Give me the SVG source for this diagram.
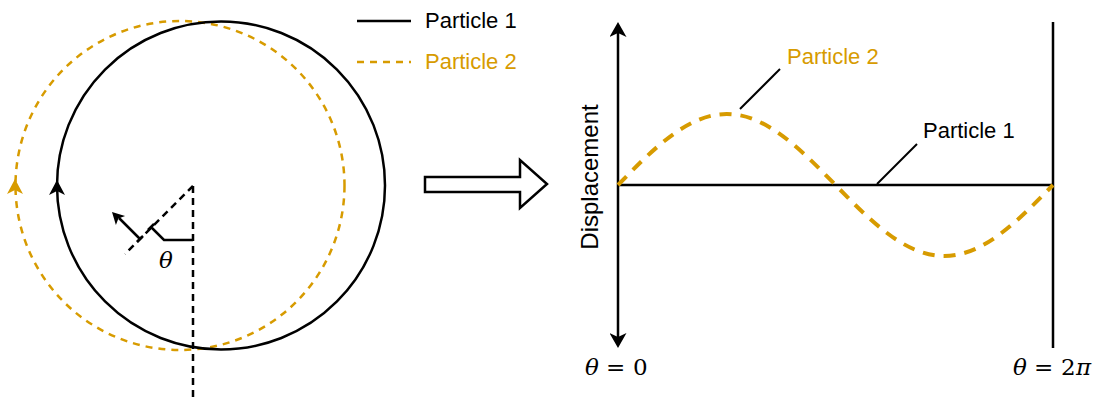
<svg xmlns="http://www.w3.org/2000/svg" width="1096" height="401" viewBox="0 0 1096 401">
<style>
.blk{fill:none;stroke:#000;stroke-width:2.5}
.org{fill:none;stroke:#d79b00;stroke-width:2.5;stroke-dasharray:7 6}
.dsh{fill:none;stroke:#000;stroke-width:2.5;stroke-dasharray:7 5}
.lbl{font-family:"Liberation Sans",Arial,sans-serif;font-size:22px}
.math{font-family:"DejaVu Serif","Liberation Serif",serif;font-size:23px;fill:#000}
.it{font-style:italic}
</style>
<defs>
<marker id="axarrow" viewBox="0 0 15 17" refX="4" refY="8.5" markerWidth="15" markerHeight="17" markerUnits="userSpaceOnUse" orient="auto-start-reverse">
<path d="M15,8.5 L0,0 L4,8.5 L0,17 Z" fill="#000"/>
</marker>
<path id="ah" d="M0,0 L8,15 L0,11 L-8,15 Z"/>
</defs>

<g id="circle-diagram">
<g id="particle2-orbit">
<circle cx="180" cy="185.5" r="164.5" class="org"/>
<use href="#ah" x="15" y="179" fill="#d79b00"/>
</g>
<g id="particle1-orbit">
<circle cx="221" cy="185.5" r="164" class="blk"/>
<use href="#ah" x="57" y="180" fill="#000"/>
</g>
<g id="angle-construction">
<line x1="193" y1="186" x2="193" y2="401" class="dsh"/>
<line x1="193" y1="186" x2="125" y2="254" class="dsh"/>
<path d="M148,230 L154,224 M151,227 L164,240 L193,240" class="blk" stroke-width="2"/>
<path d="M137,242 L143,236 M140,239 L119,218" class="blk" stroke-width="2.5"/>
<polygon points="112,212 125.1,215.9 118.4,218.4 115.9,225.1" fill="#000"/>
<text x="159" y="268" class="math it">θ</text>
</g>
</g>

<g id="legend">
<line x1="357" y1="21" x2="411" y2="21" class="blk"/>
<text x="425" y="28" class="lbl" fill="#000">Particle 1</text>
<line x1="357" y1="62" x2="411" y2="62" class="org"/>
<text x="425" y="69" class="lbl" fill="#d79b00">Particle 2</text>
</g>

<g id="transform-arrow">
<polygon points="425,177 520,177 520,160 547,184 520,208 520,192 425,192" fill="#fff" stroke="#000" stroke-width="2.5" stroke-linejoin="miter"/>
</g>

<g id="graph">
<g id="connectors">
<line x1="618" y1="33" x2="618" y2="337" class="blk" marker-start="url(#axarrow)" marker-end="url(#axarrow)"/>
<line x1="1053" y1="22" x2="1053" y2="348" class="blk"/>
<line x1="618" y1="185" x2="1053" y2="185" class="blk"/>
<path d="M618,185 C653.47,148.63 687.70,114 726.75,114 C765.80,114 800.03,148.63 835.5,185 C870.97,221.37 905.20,256 944.25,256 C983.30,256 1017.53,221.37 1053,185" fill="none" stroke="#d79b00" stroke-width="4" stroke-dasharray="12 9"/>
<line x1="740" y1="109" x2="780" y2="69" stroke="#000" stroke-width="2"/>
<line x1="877" y1="184" x2="917" y2="144" stroke="#000" stroke-width="2"/>
</g>
<g id="label-particle2">
<text x="787" y="64" class="lbl" fill="#d79b00">Particle 2</text>
</g>
<g id="label-particle1">
<text x="923" y="138" class="lbl" fill="#000">Particle 1</text>
</g>
<g id="label-displacement">
<text transform="translate(598,177) rotate(-90)" text-anchor="middle" class="lbl" fill="#000" style="font-size:24px">Displacement</text>
</g>
<g id="label-theta0">
<text y="375" class="math"><tspan x="585" class="it">θ</tspan><tspan x="606">=</tspan><tspan x="633">0</tspan></text>
</g>
<g id="label-theta2pi">
<text y="375" class="math"><tspan x="1013" class="it">θ</tspan><tspan x="1034">=</tspan><tspan x="1061">2</tspan><tspan x="1076" class="it">π</tspan></text>
</g>
</g>
</svg>
